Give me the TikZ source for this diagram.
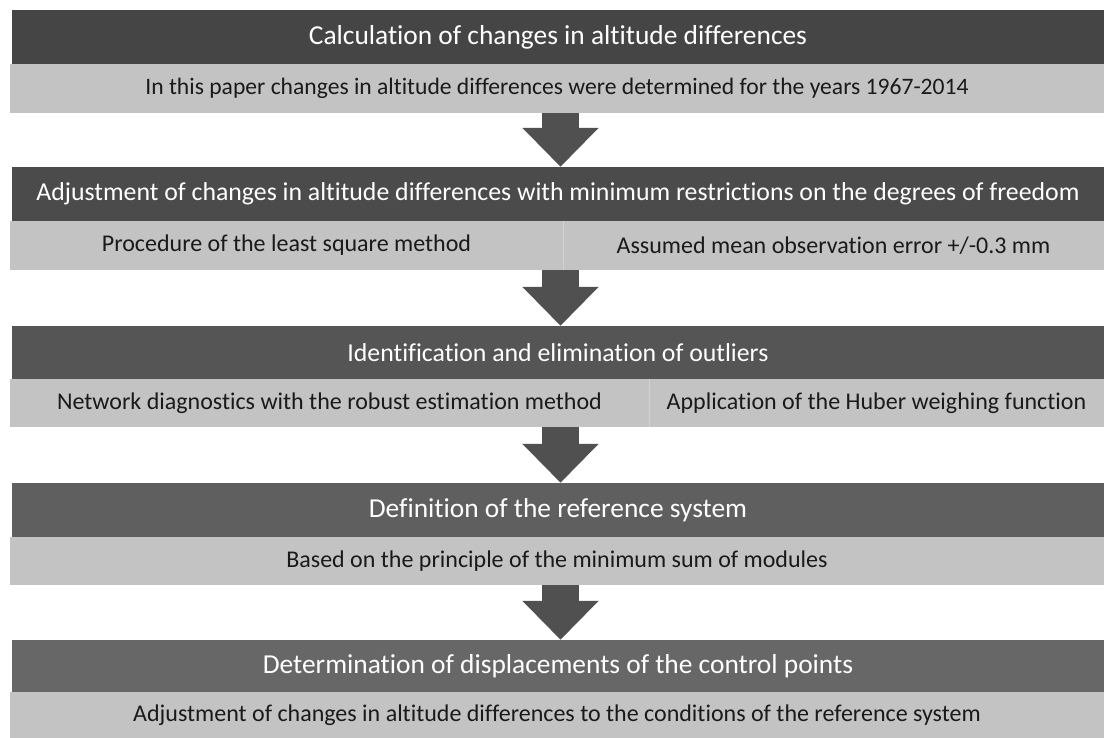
\documentclass[tikz,border=0pt]{standalone}
\usepackage{fontspec}
\setmainfont{Carlito}[Ligatures={NoCommon}]
\usetikzlibrary{arrows.meta}
\definecolor{hA}{HTML}{454545}
\definecolor{hB}{HTML}{4B4B4B}
\definecolor{hC}{HTML}{555555}
\definecolor{hD}{HTML}{5F5F5F}
\definecolor{hE}{HTML}{676767}
\definecolor{lband}{HTML}{C3C3C3}
\definecolor{divc}{HTML}{D2D2D2}
\definecolor{arrc}{HTML}{505050}
\definecolor{btxt}{HTML}{1A1A1A}
\tikzset{
  hdr/.style={inner sep=0pt, minimum width=1092pt, text=white, font=\fontsize{27.4}{30}\selectfont},
  hdrsmall/.style={hdr, font=\fontsize{25.8}{29}\selectfont},
  band/.style={fill=lband, inner sep=0pt, text=btxt, font=\fontsize{24}{27}\selectfont},
  flowarrow/.style={draw=arrc, line width=37pt, -{Triangle[length=39pt,width=74pt]}, shorten >=0pt},
}
\begin{document}
\begin{tikzpicture}[x=1pt,y=-1pt]
\useasboundingbox (0,0) rectangle (1104,738);
% block 1
\node[hdr, fill=hA, minimum height=54pt] (h1) at (558,37) {Calculation of changes in altitude differences};
\node[band, font=\fontsize{23.6}{27}\selectfont, minimum width=1094pt, minimum height=49pt] (l1) at (557,88.5) {In this paper changes in altitude differences were determined for the years 1967-2014};
% block 2
\node[hdrsmall, fill=hB, minimum height=54pt] (h2) at (558,194) {Adjustment of changes in altitude differences with minimum restrictions on the degrees of freedom};
\node[band, minimum width=553pt, minimum height=49pt] (l2a) at (286.5,245.5) {Procedure of the least square method};
\node[band, minimum width=541pt, minimum height=49pt] (l2b) at (833.5,245.5) {Assumed mean observation error +/-0.3 mm};
\draw[divc, line width=1pt] (l2a.north east) -- (l2a.south east);
% block 3
\node[hdrsmall, fill=hC, minimum height=53pt] (h3) at (558,352.5) {Identification and elimination of outliers};
\node[band, minimum width=639pt, minimum height=48pt] (l3a) at (329.5,403) {Network diagnostics with the robust estimation method};
\node[band, minimum width=455pt, minimum height=48pt] (l3b) at (876.5,403) {Application of the Huber weighing function};
\draw[divc, line width=1pt] (l3a.north east) -- (l3a.south east);
% block 4
\node[hdr, fill=hD, minimum height=54pt] (h4) at (558,510) {Definition of the reference system};
\node[band, minimum width=1094pt, minimum height=48pt] (l4) at (557,561) {Based on the principle of the minimum sum of modules};
% block 5
\node[hdr, fill=hE, minimum height=52pt] (h5) at (558,666) {Determination of displacements of the control points};
\node[band, minimum width=1094pt, minimum height=46pt] (l5) at (557,715) {Adjustment of changes in altitude differences to the conditions of the reference system};
% arrows
\coordinate (ax) at (560.5,0);
\draw[flowarrow] (l1.south -| ax) -- (h2.north -| ax);
\draw[flowarrow] (l2a.south -| ax) -- (h3.north -| ax);
\draw[flowarrow] (l3a.south -| ax) -- (h4.north -| ax);
\draw[flowarrow] (l4.south -| ax) -- (h5.north -| ax);
\end{tikzpicture}
\end{document}
